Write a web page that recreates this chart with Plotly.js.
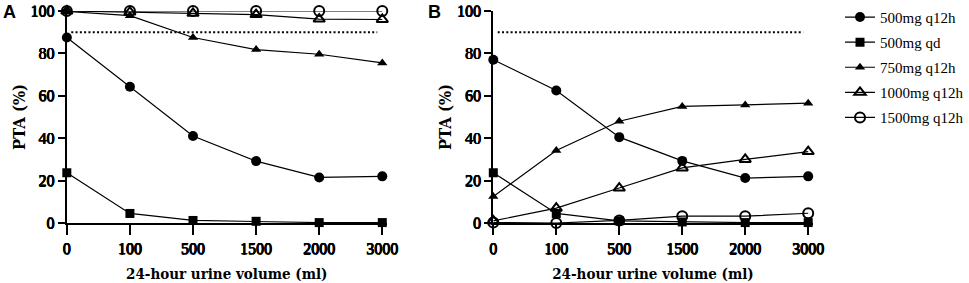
<!DOCTYPE html>
<html>
<head>
<meta charset="utf-8">
<script src="https://cdn.plot.ly/plotly-3.0.1.min.js"></script>
<style>html,body{margin:0;padding:0;background:#fff;}#chart{width:969px;height:283px;}</style>
</head>
<body>
<div id="chart"></div>
<script>
var categories = ['0', '100', '500', '1500', '2000', '3000'];
var seriesNames = ['500mg q12h', '500mg qd', '750mg q12h', '1000mg q12h', '1500mg q12h'];

// Panel A
var a_500q12 = [87.5, 64.3, 41.0, 29.2, 21.5, 22.0];
var a_500qd = [23.7, 4.5, 1.2, 0.8, 0.2, 0.2];
var a_750q12 = [99.8, 97.8, 87.5, 81.8, 79.6, 75.5];
var a_1000q12 = [100, 99.5, 98.9, 98.3, 96.2, 96.0];
var a_1500q12 = [100, 100, 100, 100, 100, 100];

// Panel B
var b_500q12 = [77.0, 62.5, 40.5, 29.3, 21.2, 22.0];
var b_500qd = [23.7, 4.5, 1.0, 0.5, 0.2, 0.2];
var b_750q12 = [12.5, 34.2, 48.0, 55.0, 55.7, 56.5];
var b_1000q12 = [1.0, 7.0, 16.5, 26.0, 30.0, 33.7];
var b_1500q12 = [0.2, 0.0, 1.2, 3.2, 3.2, 4.6];

var targetLine = 90;

var symbols = ['circle', 'square', 'triangle-up', 'triangle-up-open', 'circle-open'];
var sizes = [10, 9, 9, 10, 10];

function mk(vals, i, xa, ya, show) {
  return {
    x: categories, y: vals, type: 'scatter', mode: 'lines+markers',
    name: seriesNames[i], xaxis: xa, yaxis: ya, showlegend: show,
    legendgroup: 'g' + i,
    cliponaxis: false,
    line: {color: '#000', width: 1.2},
    marker: {symbol: symbols[i], size: sizes[i], color: '#000',
             line: {color: '#000', width: (i >= 3 ? 2 : 0)}}
  };
}

var A = [a_500q12, a_500qd, a_750q12, a_1000q12, a_1500q12];
var B = [b_500q12, b_500qd, b_750q12, b_1000q12, b_1500q12];
var data = [];
A.forEach(function(v, i){ data.push(mk(v, i, 'x', 'y', true)); });
B.forEach(function(v, i){ data.push(mk(v, i, 'x2', 'y2', false)); });

var serif = 'Liberation Serif';
var fakeBold = '0.5px 0 0 #000, -0.4px 0 0 #000, 0 0.4px 0 #000, 0 -0.3px 0 #000';
var tickF = {family: 'Liberation Serif', size: 16, color: '#000', shadow: fakeBold};
var xTitleF = {family: 'DejaVu Serif Condensed', size: 15, weight: 700, color: '#000'};
var yTitleF = {family: 'DejaVu Serif Condensed', size: 16.5, weight: 700, color: '#000'};

function xax(dom, anchor) {
  return {
    domain: dom, anchor: anchor, type: 'category', categoryarray: categories,
    range: [0, 5.07], showline: true, linewidth: 2, linecolor: '#000',
    ticks: 'outside', ticklen: 10, tickwidth: 2, tickcolor: '#000',
    showgrid: false, zeroline: false, tickfont: tickF,
    title: {text: '24-hour urine volume (ml)', font: xTitleF, standoff: 12}
  };
}
function yax(anchor) {
  return {
    domain: [0, 1], anchor: anchor, range: [0, 100],
    tickvals: [0, 20, 40, 60, 80, 100],
    showline: true, linewidth: 2, linecolor: '#000',
    ticks: 'outside', ticklen: 7, tickwidth: 2, tickcolor: '#000',
    showgrid: false, zeroline: false, tickfont: tickF,
    title: {text: 'PTA (%)', font: yTitleF, standoff: 1}
  };
}

var layout = {
  width: 969, height: 283,
  margin: {l: 0, r: 0, t: 11, b: 60},
  paper_bgcolor: '#fff', plot_bgcolor: '#fff',
  xaxis: xax([0.0699, 0.4045], 'y'),
  yaxis: yax('x'),
  xaxis2: xax([0.516, 0.850], 'y2'),
  yaxis2: yax('x2'),
  showlegend: true,
  legend: {x: 0.879, xanchor: 'left', y: 1.048, yanchor: 'top',
           font: {family: serif, size: 15, color: '#000'}, tracegroupgap: 2.6,
           bgcolor: 'rgba(0,0,0,0)', itemwidth: 30},
  shapes: [
    {type: 'line', xref: 'x', yref: 'y', x0: 0.07, x1: 4.92, y0: targetLine, y1: targetLine,
     line: {color: '#000', width: 2, dash: '2px,2.3px'}},
    {type: 'line', xref: 'x2', yref: 'y2', x0: 0.07, x1: 4.92, y0: targetLine, y1: targetLine,
     line: {color: '#000', width: 2, dash: '2px,2.3px'}}
  ],
  annotations: [
    {text: 'A', xref: 'paper', yref: 'paper', x: 0.0103, y: 0.995, xanchor: 'center', yanchor: 'middle',
     showarrow: false, font: {family: 'Liberation Sans, Arial, sans-serif', size: 18, weight: 'bold', color: '#000'}},
    {text: 'B', xref: 'paper', yref: 'paper', x: 0.454, y: 0.995, xanchor: 'center', yanchor: 'middle',
     showarrow: false, font: {family: 'Liberation Sans, Arial, sans-serif', size: 18, weight: 'bold', color: '#000'}}
  ]
};

Plotly.newPlot('chart', data, layout, {displayModeBar: false, staticPlot: true});
</script>
</body>
</html>
